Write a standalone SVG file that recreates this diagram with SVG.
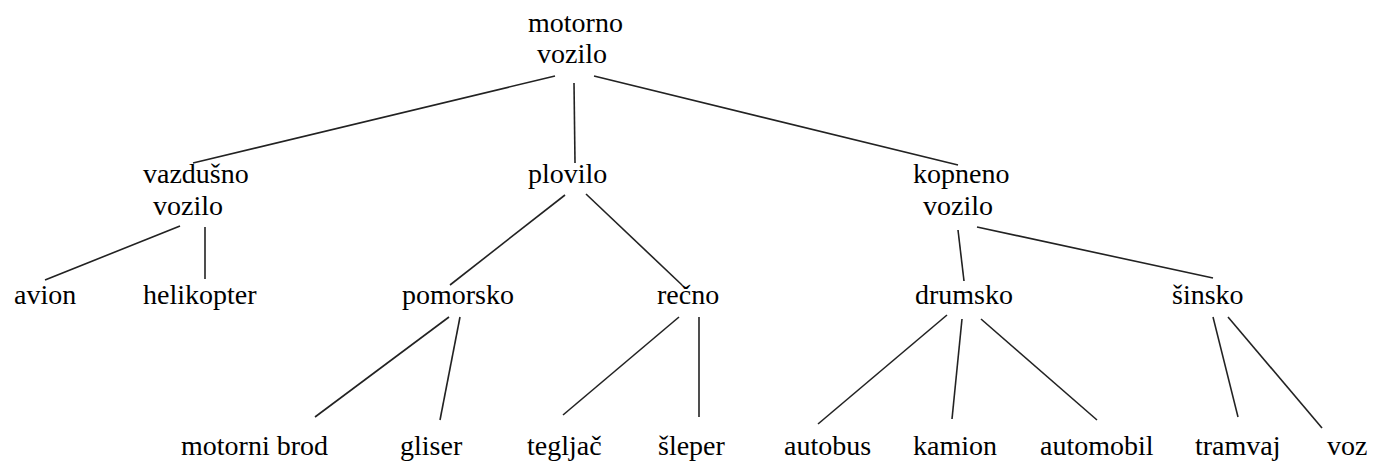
<svg xmlns="http://www.w3.org/2000/svg" width="1383" height="462" viewBox="0 0 1383 462">
<style>
text { font-family: "Liberation Serif", "Times New Roman", serif; font-size: 28px; fill: #000; }
.edge { stroke: #222; stroke-width: 1.6; fill: none; }
</style>
<rect width="1383" height="462" fill="#fff"/>
<g id="connectors">
<line class="edge" x1="555" y1="76" x2="193" y2="163"/>
<line class="edge" x1="574" y1="83" x2="575" y2="163"/>
<line class="edge" x1="594" y1="76" x2="958" y2="165"/>
<line class="edge" x1="180" y1="226" x2="45" y2="280"/>
<line class="edge" x1="205" y1="227" x2="205" y2="279"/>
<line class="edge" x1="565" y1="195" x2="450" y2="285"/>
<line class="edge" x1="586" y1="194" x2="682" y2="285"/>
<line class="edge" x1="958" y1="230" x2="964" y2="281"/>
<line class="edge" x1="977" y1="227" x2="1213" y2="278"/>
<line class="edge" x1="449" y1="317" x2="315" y2="417"/>
<line class="edge" x1="460" y1="317" x2="440" y2="420"/>
<line class="edge" x1="679" y1="317" x2="563" y2="415"/>
<line class="edge" x1="699" y1="317" x2="699" y2="417"/>
<line class="edge" x1="947" y1="315" x2="818" y2="424"/>
<line class="edge" x1="962" y1="319" x2="952" y2="419"/>
<line class="edge" x1="981" y1="319" x2="1097" y2="420"/>
<line class="edge" x1="1213" y1="317" x2="1238" y2="417"/>
<line class="edge" x1="1228" y1="317" x2="1322" y2="428"/>
</g>
<g id="motorno-vozilo"><text x="528" y="32">motorno</text><text x="537" y="63">vozilo</text></g>
<g id="vazdusno-vozilo"><text x="143" y="183">vazdušno</text><text x="153" y="215">vozilo</text></g>
<g id="plovilo"><text x="528" y="183">plovilo</text></g>
<g id="kopneno-vozilo"><text x="913" y="183">kopneno</text><text x="923" y="215">vozilo</text></g>
<g id="avion"><text x="14" y="304">avion</text></g>
<g id="helikopter"><text x="143" y="304">helikopter</text></g>
<g id="pomorsko"><text x="402" y="304">pomorsko</text></g>
<g id="recno"><text x="657" y="304">rečno</text></g>
<g id="drumsko"><text x="915" y="304">drumsko</text></g>
<g id="sinsko"><text x="1172" y="304">šinsko</text></g>
<g id="motorni-brod"><text x="181" y="455">motorni brod</text></g>
<g id="gliser"><text x="400" y="455">gliser</text></g>
<g id="tegljac"><text x="527" y="455">tegljač</text></g>
<g id="sleper"><text x="658" y="455">šleper</text></g>
<g id="autobus"><text x="784" y="455">autobus</text></g>
<g id="kamion"><text x="913" y="455">kamion</text></g>
<g id="automobil"><text x="1040" y="455">automobil</text></g>
<g id="tramvaj"><text x="1195" y="455">tramvaj</text></g>
<g id="voz"><text x="1327" y="455">voz</text></g>
</svg>
